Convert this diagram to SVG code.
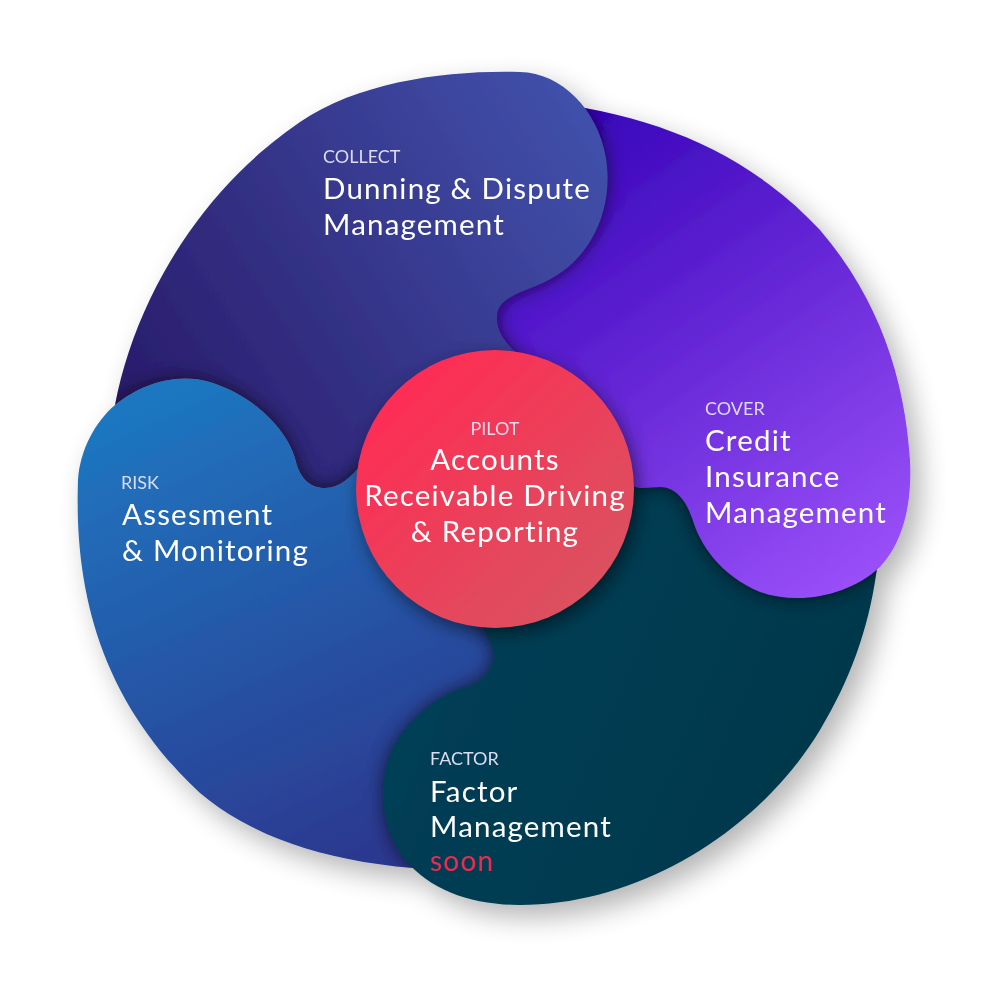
<svg xmlns="http://www.w3.org/2000/svg" width="1000" height="1000" viewBox="0 0 1000 1000">
<defs>
<style>
.lbl{font-family:Lato,"Open Sans",sans-serif;font-size:18px;fill:#dcdcee}
.main{font-family:Lato,"Open Sans",sans-serif;font-size:29.5px;letter-spacing:1.2px;fill:#ffffff}
.soon{font-family:Lato,"Open Sans",sans-serif;font-size:28px;letter-spacing:1.2px;fill:#f0294f}
.mid{text-anchor:middle}
</style>
<linearGradient id="gCollect" gradientUnits="userSpaceOnUse" x1="150" y1="430" x2="600" y2="140">
<stop offset="0" stop-color="#2a1c6c"/><stop offset="1" stop-color="#4150aa"/>
</linearGradient>
<linearGradient id="gCover" gradientUnits="userSpaceOnUse" x1="560" y1="140" x2="880" y2="600">
<stop offset="0" stop-color="#3a06bb"/><stop offset="1" stop-color="#9e53fb"/>
</linearGradient>
<linearGradient id="gFactor" gradientUnits="userSpaceOnUse" x1="450" y1="650" x2="850" y2="820">
<stop offset="0" stop-color="#043f56"/><stop offset="1" stop-color="#02364a"/>
</linearGradient>
<linearGradient id="gRisk" gradientUnits="userSpaceOnUse" x1="150" y1="400" x2="360" y2="860">
<stop offset="0" stop-color="#1e76c0"/><stop offset="1" stop-color="#2c388f"/>
</linearGradient>
<linearGradient id="gPilot" gradientUnits="userSpaceOnUse" x1="390" y1="380" x2="600" y2="600">
<stop offset="0" stop-color="#ff2b55"/><stop offset="1" stop-color="#d9535f"/>
</linearGradient>
<path id="pRisk" d="M495 489 L400 476 L360 466 C352 476 340 488 325 488 C310 488 300 478 296 462 C290 435 260 398 210 382 C175 372 140 385 115 405 C95 422 80 450 78 480 C74 590 100 700 200 793 C250 835 320 860 413 868 L470 882 L530 700 Z"/>
<path id="pFactor" d="M495 489 L478 622 L483 628 C489 637 494 648 493 658 C492 671 482 682 468 686 C440 694 405 720 390 755 C378 785 380 835 410 865 C435 892 475 905 520 905 C640 905 760 830 820 730 C850 680 868 630 876 575 L882 540 L760 520 L690 440 L620 450 Z"/>
<path id="pCover" d="M495 489 L625 480 C635 492 648 487 660 487 C675 487 686 500 692 518 C700 545 720 575 760 592 C800 606 850 595 880 567 C905 540 912 500 910 460 C905 380 880 300 820 230 C760 165 680 125 585 108 L560 100 L540 200 L480 300 L480 360 Z"/>
<path id="pCollect" d="M495 489 L400 476 L360 466 C352 476 340 488 325 488 C310 488 300 478 296 462 C290 435 260 398 210 382 C175 372 140 385 115 405 C135 300 200 190 300 122 C360 81 450 70 520 72 C562 73 598 110 606 158 C614 208 592 260 545 282 C520 293 498 298 497 316 C496 333 508 345 516 352 L525 420 Z"/>
<circle id="pPilot" cx="495" cy="489" r="139"/>
<clipPath id="cRisk"><use href="#pRisk"/></clipPath>
<clipPath id="cFactor"><use href="#pFactor"/></clipPath>
<clipPath id="cCover"><use href="#pCover"/></clipPath>
<clipPath id="cCollect"><use href="#pCollect"/></clipPath>
<filter id="drop" x="-20%" y="-20%" width="140%" height="140%">
<feGaussianBlur in="SourceAlpha" stdDeviation="14"/>
<feOffset dx="10" dy="12" result="b"/>
<feComponentTransfer><feFuncA type="linear" slope="0.3"/></feComponentTransfer>
<feMerge><feMergeNode/><feMergeNode in="SourceGraphic"/></feMerge>
</filter>
<filter id="blur" x="-20%" y="-20%" width="140%" height="140%">
<feGaussianBlur stdDeviation="9"/>
</filter>
</defs>
<rect width="1000" height="1000" fill="#ffffff"/>
<g filter="url(#drop)">
<g id="node-risk">
<use href="#pRisk" fill="url(#gRisk)"/>
<g clip-path="url(#cRisk)"><use href="#pFactor" fill="#000" opacity="0.6" filter="url(#blur)"/></g>
<text class="lbl" x="121" y="489">RISK</text>
<text class="main" x="122" y="525">Assesment</text>
<text class="main" x="122" y="561">&amp; Monitoring</text>
</g>
<g id="node-factor">
<use href="#pFactor" fill="url(#gFactor)"/>
<g clip-path="url(#cFactor)"><use href="#pCover" fill="#000" opacity="0.6" filter="url(#blur)"/></g>
<text class="lbl" x="430" y="765">FACTOR</text>
<text class="main" x="430" y="802">Factor</text>
<text class="main" x="430" y="837">Management</text>
<text class="soon" x="430" y="871">soon</text>
</g>
<g id="node-cover">
<use href="#pCover" fill="url(#gCover)"/>
<g clip-path="url(#cCover)"><use href="#pCollect" fill="#000" opacity="0.6" filter="url(#blur)"/></g>
<text class="lbl" x="705" y="415">COVER</text>
<text class="main" x="705" y="451">Credit</text>
<text class="main" x="705" y="487">Insurance</text>
<text class="main" x="705" y="523">Management</text>
</g>
<g id="node-collect">
<use href="#pCollect" fill="url(#gCollect)"/>
<g clip-path="url(#cCollect)"><use href="#pRisk" fill="#000" opacity="0.6" filter="url(#blur)"/></g>
<text class="lbl" x="323" y="163">COLLECT</text>
<text class="main" x="323" y="199">Dunning &amp; Dispute</text>
<text class="main" x="323" y="235">Management</text>
</g>
<g id="node-pilot">
<use href="#pPilot" fill="#000" opacity="0.5" filter="url(#blur)" transform="translate(4,6)"/>
<use href="#pPilot" fill="url(#gPilot)"/>
<text class="lbl mid" x="495" y="435">PILOT</text>
<text class="main mid" x="495" y="470">Accounts</text>
<text class="main mid" x="495" y="506">Receivable Driving</text>
<text class="main mid" x="495" y="542">&amp; Reporting</text>
</g>
</g>
<g id="connectors"/>
</svg>
